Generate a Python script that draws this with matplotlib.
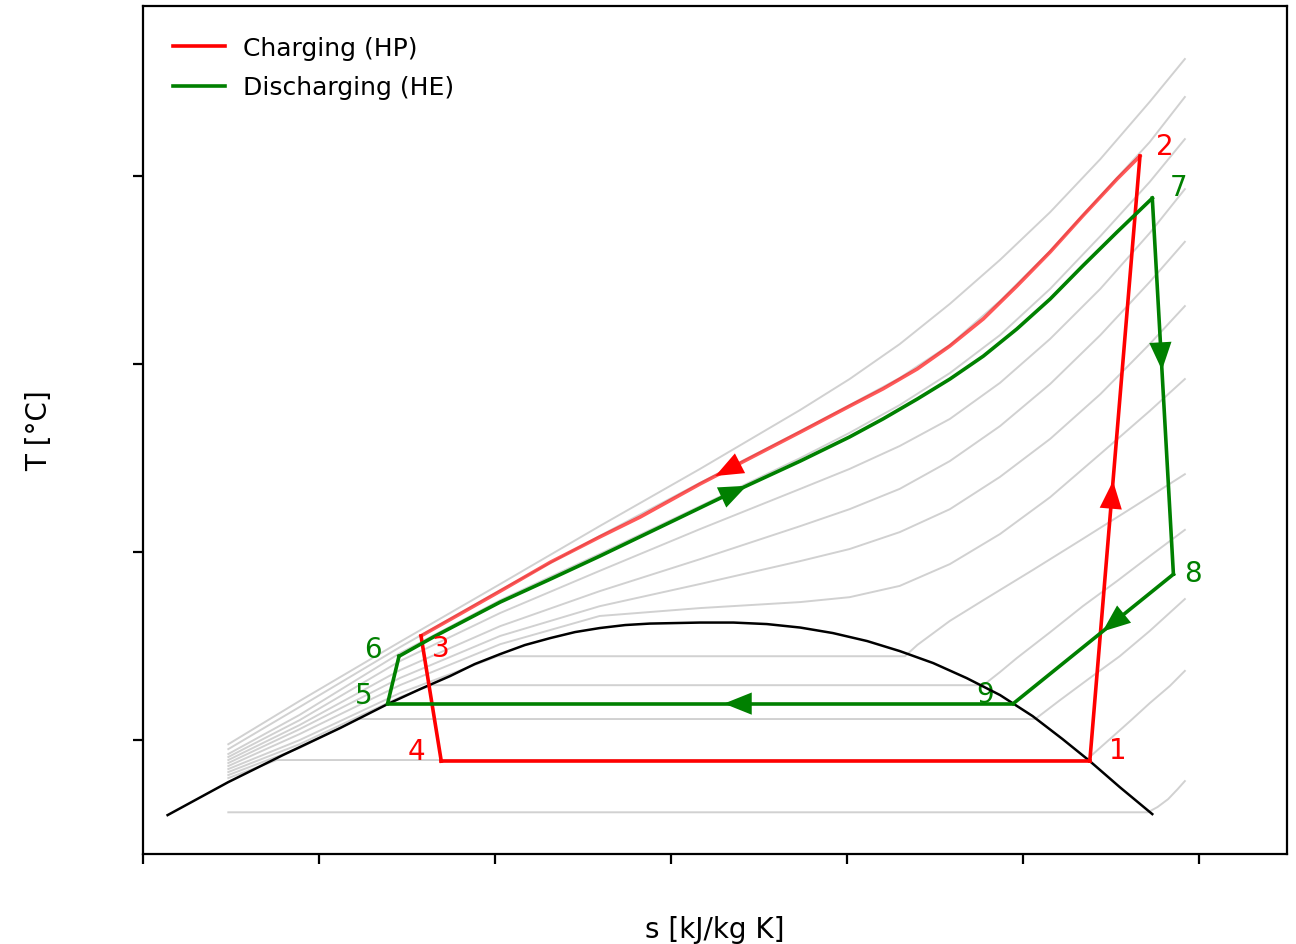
import numpy as np
import matplotlib.pyplot as plt

# saturation dome
dome_s = [0.828, 0.897, 0.959, 1.024, 1.078, 1.115, 1.149, 1.177, 1.206, 1.234, 1.263,
          1.291, 1.319, 1.348, 1.376, 1.433, 1.471, 1.509, 1.547, 1.584, 1.623, 1.660,
          1.698, 1.736, 1.774, 1.811, 1.845, 1.876, 1.910, 1.947]
dome_T = [-19.95, -11.17, -3.99, 3.19, 9.57, 13.56, 17.02, 20.21, 22.87, 25.27, 27.13,
          28.72, 29.79, 30.59, 30.98, 31.25, 31.25, 30.85, 29.92, 28.46, 26.33, 23.67,
          20.48, 16.49, 11.97, 6.38, 0.27, -5.59, -12.50, -19.68]

# supercritical isobars, all on one entropy grid
sc_s = [0.897, 0.978, 1.092, 1.206, 1.319, 1.433, 1.547, 1.603, 1.660, 1.717,
        1.774, 1.831, 1.888, 1.944, 1.984]
sc_T = [
    [-1.1, 10.4, 26.1, 41.5, 56.9, 72.1, 87.8, 96.0, 105.3, 116.0, 127.7, 140.4, 154.5, 169.7, 181.1],
    [-2.4, 8.8, 24.7, 39.9, 54.3, 68.4, 82.2, 89.1, 96.3, 105.1, 116.8, 130.1, 144.7, 159.0, 171.0],
    [-3.7, 6.7, 23.1, 37.2, 49.5, 62.2, 75.0, 81.7, 89.1, 97.6, 107.7, 120.0, 134.0, 148.4, 159.8],
    [-4.5, 5.3, 21.0, 33.8, 45.0, 56.1, 66.8, 72.1, 78.2, 85.4, 95.0, 106.7, 120.0, 134.8, 146.5],
    [-5.3, 4.0, 18.6, 30.3, 39.6, 48.1, 56.9, 61.4, 66.8, 74.2, 83.5, 94.7, 107.7, 121.8, 132.5],
    [-6.1, 2.9, 16.5, 27.7, 35.6, 41.5, 47.6, 50.8, 55.3, 61.4, 70.0, 80.1, 92.0, 105.3, 115.4],
    [-6.9, 1.6, 14.6, 25.5, 33.0, 35.1, 36.7, 38.0, 41.0, 46.8, 54.8, 64.6, 76.1, 87.5, 96.0],
]

# subcritical isobars (flat inside the dome)
sub_s = [
    [0.897, 0.978, 1.092, 1.203, 1.666, 1.680, 1.717, 1.755, 1.811, 1.868, 1.927, 1.984],
    [0.897, 0.978, 1.092, 1.128, 1.755, 1.774, 1.793, 1.831, 1.868, 1.907, 1.944, 1.984],
    [0.897, 0.978, 1.044, 1.814, 1.842, 1.876, 1.910, 1.944, 1.984],
    [0.897, 0.952, 1.872, 1.899, 1.922, 1.944, 1.967, 1.984],
    [0.897, 1.942, 1.953, 1.965, 1.976, 1.984],
]
sub_T = [
    [-7.7, 0.0, 12.5, 22.3, 22.3, 25.3, 31.7, 37.2, 45.2, 53.5, 62.2, 70.7],
    [-8.5, -1.1, 11.4, 14.6, 14.6, 18.1, 21.8, 28.7, 35.6, 42.3, 48.9, 55.9],
    [-9.3, -2.1, 5.6, 5.6, 10.6, 16.5, 22.3, 29.0, 37.5],
    [-10.1, -5.3, -5.3, 0.3, 5.1, 9.8, 14.4, 18.4],
    [-19.2, -19.2, -17.8, -15.7, -13.0, -10.9],
]

# charging cycle (heat pump), states 1-4
hp_s = [1.876, 1.933, 1.116, 1.139]
hp_T = [-5.6, 155.3, 27.7, -5.6]
# 2 -> 3 high pressure cooling
hp_cool_s = [1.933, 1.907, 1.868, 1.831, 1.793, 1.755, 1.717, 1.680, 1.641, 1.603,
             1.547, 1.490, 1.433, 1.365, 1.319, 1.263, 1.206, 1.160, 1.116]
hp_cool_T = [155.3, 149.2, 139.4, 129.8, 120.7, 112.0, 104.8, 98.7, 93.4, 88.8,
             81.9, 75.0, 68.1, 59.3, 54.0, 47.3, 39.6, 33.5, 27.7]

# discharging cycle (heat engine), states 5-9
he_s = [1.078, 1.091, 1.947, 1.971, 1.789]
he_T = [9.7, 22.3, 144.1, 44.1, 9.7]
# 6 -> 7 high pressure heating
he_heat_s = [1.091, 1.130, 1.206, 1.263, 1.319, 1.407, 1.461, 1.547, 1.603, 1.641,
             1.680, 1.717, 1.755, 1.793, 1.831, 1.868, 1.907, 1.947]
he_heat_T = [22.3, 27.4, 36.7, 42.8, 48.9, 58.8, 64.9, 74.2, 80.6, 85.4,
             90.7, 96.0, 102.1, 109.3, 117.3, 126.1, 135.1, 144.1]

RED = '#ff0000'
GREEN = '#008000'

fig = plt.figure(figsize=(6.48, 4.725), dpi=200, facecolor='w')
ax = fig.add_axes([0.1103, 0.0952, 0.8827, 0.8974])
ax.set_xlim(0.8, 2.1)
ax.set_ylim(-30.3, 195.2)


def arrow_on(s, T, frac, color):
    # filled arrow head placed at a fraction of the path length (display space)
    pts = ax.transData.transform(np.column_stack([s, T]))
    d = np.r_[0, np.cumsum(np.hypot(*np.diff(pts, axis=0).T))]
    L = frac * d[-1]
    a = [np.interp(L - 14, d, pts[:, 0]), np.interp(L - 14, d, pts[:, 1])]
    b = [np.interp(L + 14, d, pts[:, 0]), np.interp(L + 14, d, pts[:, 1])]
    inv = ax.transData.inverted()
    ax.annotate('', xy=inv.transform(b), xytext=inv.transform(a),
                arrowprops=dict(arrowstyle='-|>,head_length=0.5,head_width=0.2',
                                color=color, lw=0, mutation_scale=20,
                                shrinkA=0, shrinkB=0), zorder=5)


for T in sc_T:
    ax.plot(sc_s, T, color='0.82', lw=0.7, zorder=1)
for s, T in zip(sub_s, sub_T):
    ax.plot(s, T, color='0.82', lw=0.7, zorder=1)

ax.plot(dome_s, dome_T, 'k-', lw=0.9, zorder=2)

# charging
ax.plot(hp_s[0:2], hp_T[0:2], color=RED, lw=1.3, zorder=3, label='Charging (HP)')
ax.plot(hp_cool_s, hp_cool_T, color=RED, lw=1.3, alpha=0.65, zorder=3)
ax.plot(hp_s[2:4], hp_T[2:4], color=RED, lw=1.3, zorder=3)
ax.plot([hp_s[3], hp_s[0]], [hp_T[3], hp_T[0]], color=RED, lw=1.3, zorder=3)

# discharging
ax.plot(he_s[0:2], he_T[0:2], color=GREEN, lw=1.3, zorder=3, label='Discharging (HE)')
ax.plot(he_heat_s, he_heat_T, color=GREEN, lw=1.3, zorder=3)
ax.plot(he_s[2:4], he_T[2:4], color=GREEN, lw=1.3, zorder=3)
ax.plot(he_s[3:5], he_T[3:5], color=GREEN, lw=1.3, zorder=3)
ax.plot([he_s[4], he_s[0]], [he_T[4], he_T[0]], color=GREEN, lw=1.3, zorder=3)

arrow_on(hp_s[0:2], hp_T[0:2], 0.44, RED)
arrow_on(hp_cool_s, hp_cool_T, 0.60, RED)
arrow_on(he_heat_s, he_heat_T, 0.42, GREEN)
arrow_on(he_s[2:4], he_T[2:4], 0.42, GREEN)
arrow_on(he_s[3:5], he_T[3:5], 0.375, GREEN)
arrow_on([he_s[4], he_s[0]], [he_T[4], he_T[0]], 0.44, GREEN)

hp_off = [(10, 4), (9, 3.6), (7, -4.3), (-9, 3.6)]
for i, (s, T) in enumerate(zip(hp_s, hp_T)):
    ax.annotate(str(i + 1), (s, T), xytext=hp_off[i], textcoords='offset points',
                ha='center', va='center', color=RED, fontsize=10)
he_off = [(-8.6, 3.2), (-9.4, 2.5), (9.4, 4), (7, 0.4), (-10, 3.6)]
for i, (s, T) in enumerate(zip(he_s, he_T)):
    ax.annotate(str(i + 5), (s, T), xytext=he_off[i], textcoords='offset points',
                ha='center', va='center', color=GREEN, fontsize=10, zorder=1)

ax.set_xticks([0.8, 1.0, 1.2, 1.4, 1.6, 1.8, 2.0])
ax.set_yticks([0, 50, 100, 150])
ax.set_xticklabels([])
ax.set_yticklabels([])
ax.set_xlabel('s [kJ/kg K]', fontsize=10, labelpad=15)
ax.set_ylabel('T [°C]', fontsize=10, labelpad=25.5)
ax.legend(loc='upper left', frameon=False, fontsize=9, borderaxespad=0.8,
          handlelength=2.1, handletextpad=0.7, labelspacing=0.62)

fig.savefig('out.png', dpi=200)
